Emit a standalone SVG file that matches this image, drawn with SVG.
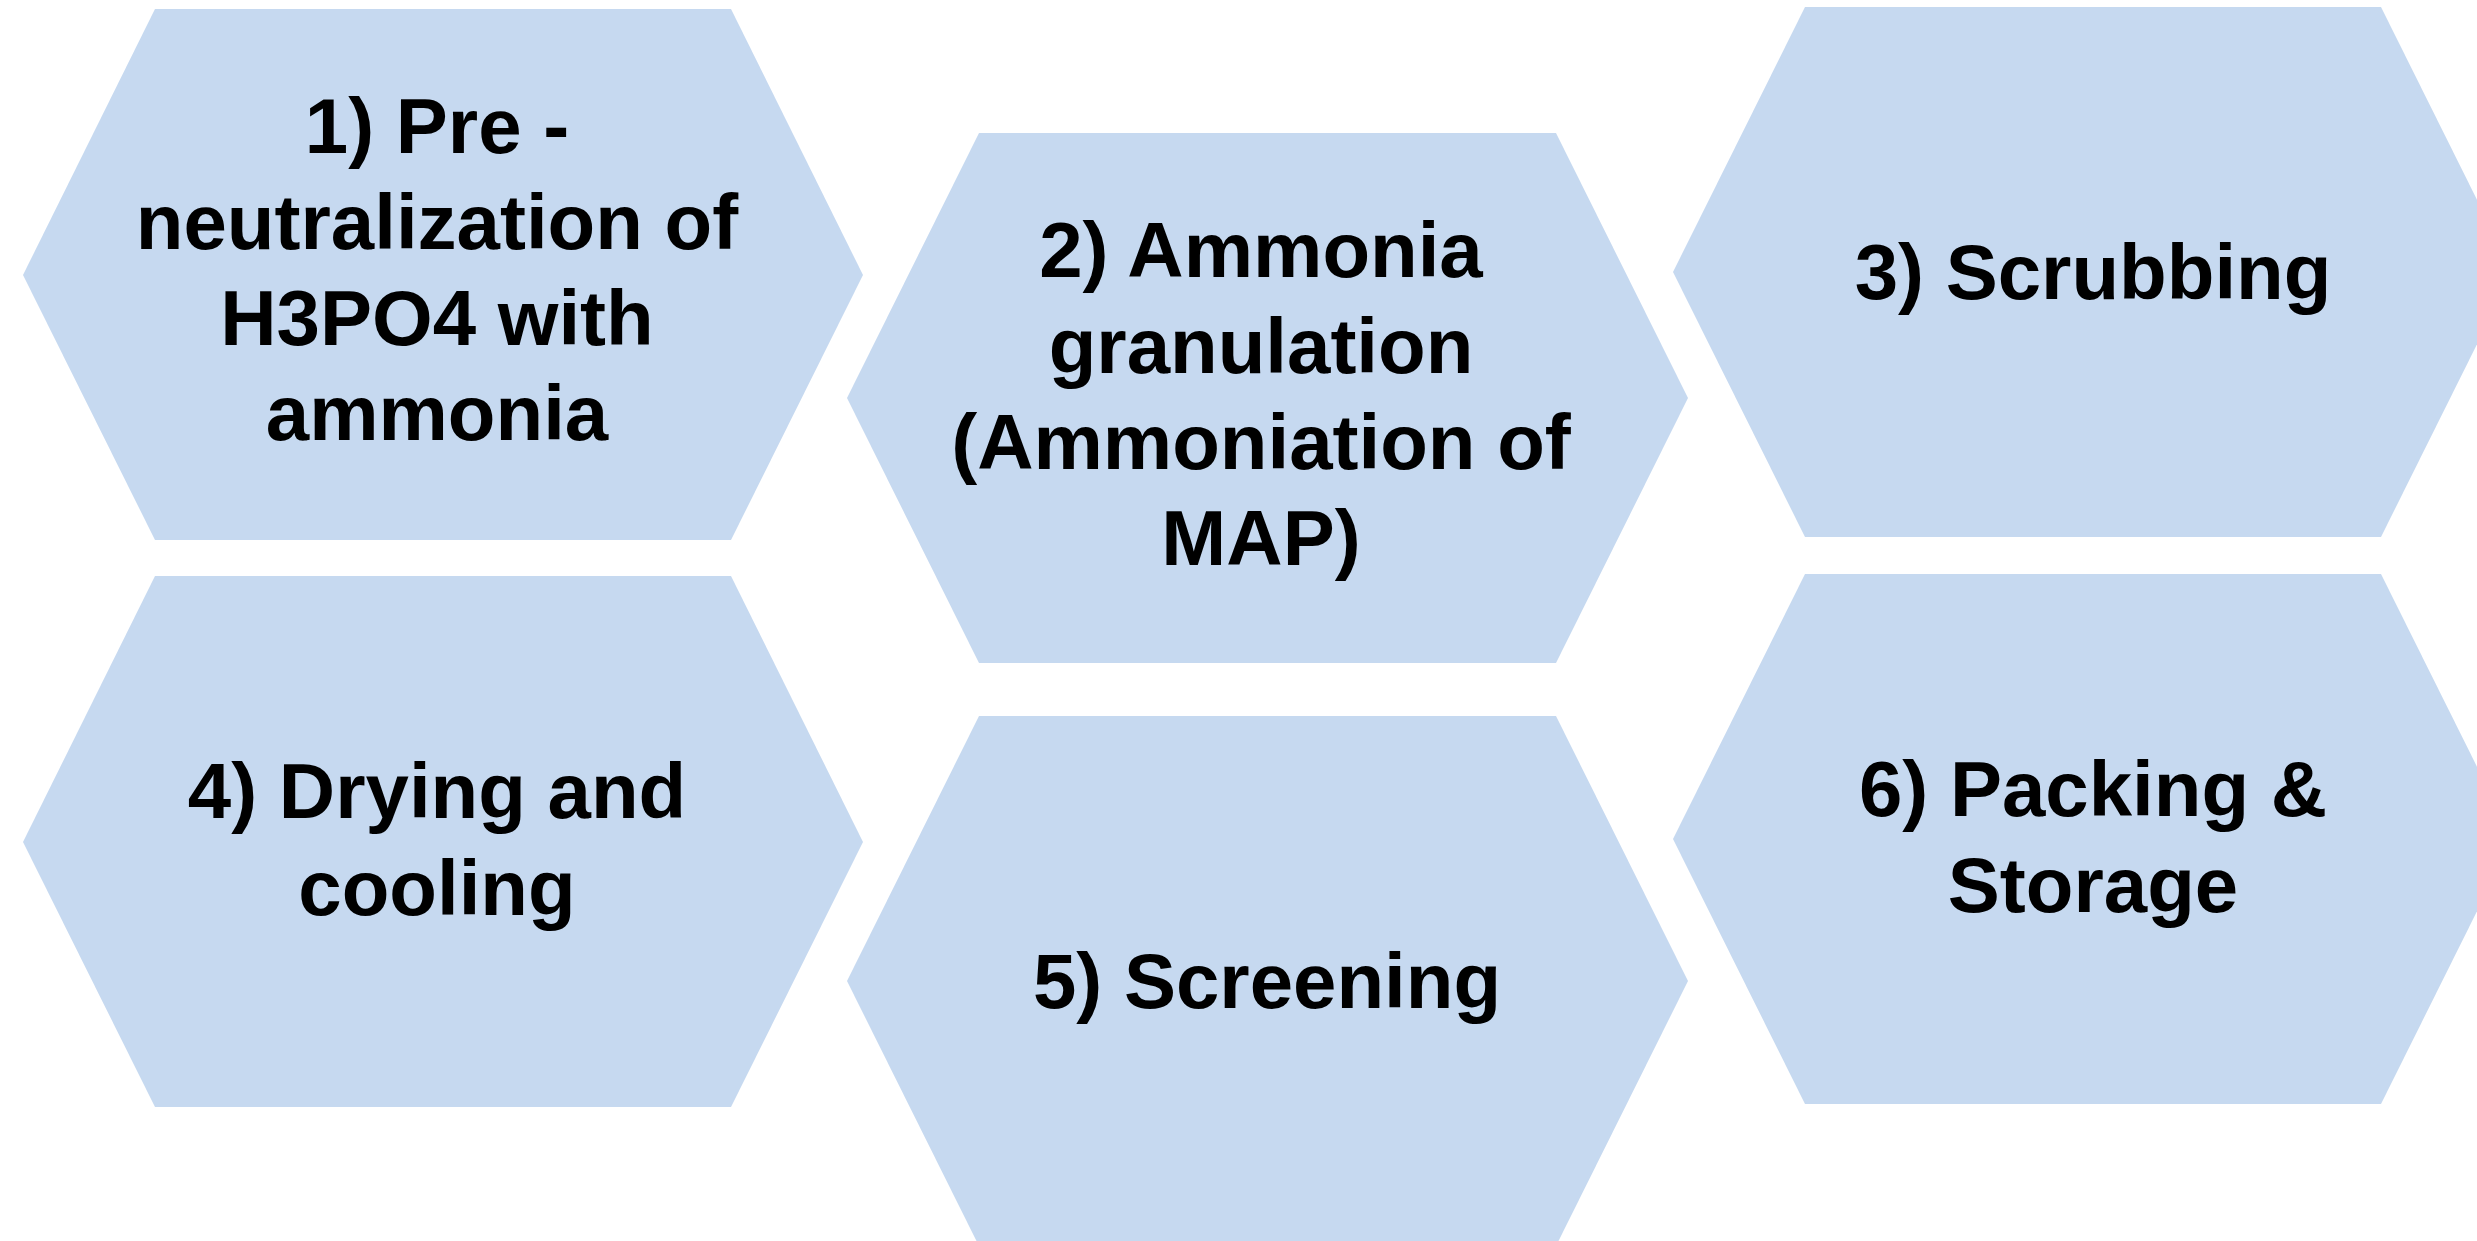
<svg xmlns="http://www.w3.org/2000/svg" width="2477" height="1241" viewBox="0 0 2477 1241">
<style>
.hex{fill:#C6D9F0;stroke:none}
.t{font-family:"Liberation Sans",Arial,sans-serif;font-weight:bold;font-size:78px;fill:#000;text-anchor:middle}
</style>
<rect width="2477" height="1241" fill="#FFFFFF"/>
<g id="node1">
<polygon class="hex" points="23,275 155,9 731,9 863,275 731,540 155,540"/>
<text class="t"><tspan x="437" y="153">1) Pre -</tspan><tspan x="437" y="249">neutralization of</tspan><tspan x="437" y="345">H3PO4 with</tspan><tspan x="437" y="440">ammonia</tspan></text>
</g>
<g id="node2">
<polygon class="hex" points="847,398 979,133 1556,133 1688,398 1556,663 979,663"/>
<text class="t"><tspan x="1261" y="277">2) Ammonia</tspan><tspan x="1261" y="373">granulation</tspan><tspan x="1261" y="469">(Ammoniation of</tspan><tspan x="1261" y="565">MAP)</tspan></text>
</g>
<g id="node3">
<polygon class="hex" points="1673,272 1805,7 2381,7 2513,272 2381,537 1805,537"/>
<text class="t" x="2093" y="299">3) Scrubbing</text>
</g>
<g id="node4">
<polygon class="hex" points="23,842 155,576 731,576 863,842 731,1107 155,1107"/>
<text class="t"><tspan x="437" y="818">4) Drying and</tspan><tspan x="437" y="915">cooling</tspan></text>
</g>
<g id="node5">
<polygon class="hex" points="847,981 979,716 1556,716 1688,981 1556,1246 979,1246"/>
<text class="t" x="1267" y="1008">5) Screening</text>
</g>
<g id="node6">
<polygon class="hex" points="1673,839 1805,574 2381,574 2513,839 2381,1104 1805,1104"/>
<text class="t"><tspan x="2093" y="816">6) Packing &amp;</tspan><tspan x="2093" y="912">Storage</tspan></text>
</g>
<g id="connectors"></g>
</svg>
